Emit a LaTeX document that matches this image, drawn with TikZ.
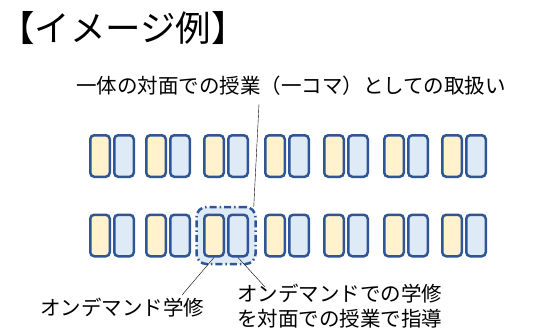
\documentclass[tikz,border=0pt]{standalone}
\usepackage{fontspec}
\setmainfont{Noto Sans CJK JP}
\usetikzlibrary{positioning,fit,backgrounds}
\definecolor{edgeblue}{HTML}{2F5597}
\definecolor{lightyellow}{HTML}{FFF2CC}
\definecolor{lightblue}{HTML}{DEEBF7}
\tikzset{
	koma/.style={
		rectangle, minimum width=19.5pt, minimum height=41.5pt, inner sep=0pt,
		rounded corners=4pt, line width=2.5pt, draw=edgeblue
	},
	%
	taimen/.style={koma, fill=lightyellow},
	%
	ondemand/.style={koma, fill=lightblue},
	%
	focusbox/.style={
		rectangle, rounded corners=10pt, line width=2.5pt, draw=edgeblue,
		fill=lightblue, dash pattern=on 7pt off 3pt on 1.5pt off 3pt, inner sep=6.5pt
	},
	%
	titletext/.style={inner sep=0pt, font=\fontsize{35.5}{42}\selectfont},
	%
	note/.style={inner sep=0pt, font=\fontsize{20.5}{24.5}\selectfont}
}
\begin{document}
\begin{tikzpicture}
    \useasboundingbox (0,0) rectangle (533pt,-329pt);
    \node(title)[titletext, anchor=west] at (-1pt,-28pt){【イメージ例】};
    \foreach \x [count=\i] in {89,145,203,264,323,383,441}{
        \node(Yt\i)[taimen] at (\x pt+11pt,-156pt){};
        \node(Bt\i)[ondemand, right=2pt of Yt\i]{};
        \node(Yb\i)[taimen] at (\x pt+11pt,-235.5pt){};
        \node(Bb\i)[ondemand, right=2pt of Yb\i]{};
    }
    \begin{scope}[on background layer]
        \node(focus)[focusbox, fit=(Yb3) (Bb3)]{};
    \end{scope}
    \node(caption)[note] at (291pt,-86pt){一体の対面での授業（一コマ）としての取扱い};
    \node(ondlabel)[note, anchor=west] at (40pt,-308pt){オンデマンド学修};
    \node(guidelabel)[note, anchor=north west, align=left] at (237pt,-284pt){オンデマンドでの学修\\を対面での授業で指導};
    \coordinate(captip) at (259pt,-104pt);
    \coordinate(ondtip) at (182pt,-295pt);
    \coordinate(guidetip) at (265pt,-287pt);
    \draw[thin] (captip) -- ([xshift=-3pt,yshift=-1pt]focus.north east);
    \draw[thin] (Yb3.south) -- (ondtip);
    \draw[thin] (Bb3.south) -- (guidetip);
\end{tikzpicture}
\end{document}
